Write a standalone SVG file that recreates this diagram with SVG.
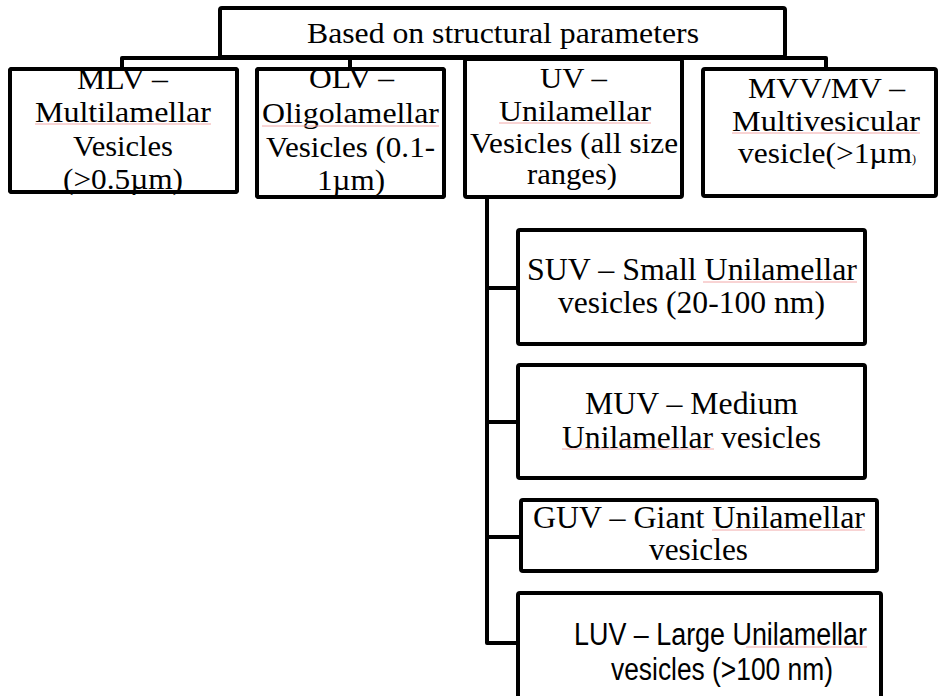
<svg xmlns="http://www.w3.org/2000/svg" width="939" height="696" viewBox="0 0 939 696">
<style>
.box{fill:#fff;stroke:#000;stroke-width:4;stroke-linejoin:round}
.frame{fill:none;stroke:#000;stroke-width:4;stroke-linejoin:round}
.conn{fill:none;stroke:#000;stroke-width:4;stroke-linejoin:round}
.t{font-family:"Liberation Serif","Times New Roman",serif;font-size:30px;fill:#000}
.t2{font-family:"Liberation Serif","Times New Roman",serif;font-size:31px;fill:#000}
.s{font-family:"Liberation Sans",Arial,sans-serif;font-size:31px;fill:#000}
.sp{stroke:#f2a8a8;stroke-width:1;fill:none}
</style>
<rect width="939" height="696" fill="#fff"/>
<g id="connectors">
<path class="conn" d="M220,57 V58 H122 V69"/>
<path class="conn" d="M122,58 H826 V69"/>
<path class="conn" d="M350,58 V69"/>
<path class="conn" d="M487,197 V643 H518"/>
<path class="conn" d="M487,288 H518"/>
<path class="conn" d="M487,422 H518"/>
<path class="conn" d="M487,537 H521"/>
</g>
<g id="root">
<rect class="box" x="220" y="8" width="565" height="49" rx="2"/>
<path class="conn" d="M220,30 V58"/>
<text class="t" x="307" y="43" textLength="392" lengthAdjust="spacingAndGlyphs">Based on structural parameters</text>
</g>
<g id="mlv">
<rect class="box" x="10" y="69" width="227" height="123" rx="2"/>
<text class="t" x="77" y="89" textLength="91" lengthAdjust="spacingAndGlyphs">MLV –</text>
<text class="t" x="35" y="122" textLength="176" lengthAdjust="spacingAndGlyphs">Multilamellar</text>
<text class="t" x="73" y="156" textLength="100" lengthAdjust="spacingAndGlyphs">Vesicles</text>
<text class="t" x="63" y="189" textLength="120" lengthAdjust="spacingAndGlyphs">(&gt;0.5µm)</text>
<path class="sp" d="M35,124 H211"/>
<rect class="frame" x="10" y="69" width="227" height="123" rx="2"/>
</g>
<g id="olv">
<rect class="box" x="257" y="69" width="187" height="128" rx="2"/>
<text class="t" x="309" y="88" textLength="85" lengthAdjust="spacingAndGlyphs">OLV –</text>
<text class="t" x="262" y="123" textLength="177" lengthAdjust="spacingAndGlyphs">Oligolamellar</text>
<text class="t" x="266" y="157" textLength="169" lengthAdjust="spacingAndGlyphs">Vesicles (0.1-</text>
<text class="t" x="317" y="190" textLength="68" lengthAdjust="spacingAndGlyphs">1µm)</text>
<path class="sp" d="M262,126 H439"/>
<rect class="frame" x="257" y="69" width="187" height="128" rx="2"/>
</g>
<g id="uv">
<rect class="box" x="465" y="59" width="217" height="138" rx="2"/>
<text class="t" x="540" y="88" textLength="67" lengthAdjust="spacingAndGlyphs">UV –</text>
<text class="t" x="499" y="121" textLength="152" lengthAdjust="spacingAndGlyphs">Unilamellar</text>
<text class="t" x="470" y="153" textLength="208" lengthAdjust="spacingAndGlyphs">Vesicles (all size</text>
<text class="t" x="527" y="184" textLength="90" lengthAdjust="spacingAndGlyphs">ranges)</text>
<path class="sp" d="M499,123 H651"/>
</g>
<g id="mvv">
<rect class="box" x="703" y="69" width="233" height="127" rx="2"/>
<text class="t" x="748" y="98" textLength="157" lengthAdjust="spacingAndGlyphs">MVV/MV –</text>
<text class="t" x="732" y="131" textLength="188" lengthAdjust="spacingAndGlyphs">Multivesicular</text>
<text class="t" x="738" y="163" textLength="174" lengthAdjust="spacingAndGlyphs">vesicle(&gt;1µm</text>
<text class="t" x="912" y="163" style="font-size:12px">)</text>
<path class="sp" d="M732,133 H920"/>
</g>
<g id="suv">
<rect class="box" x="518" y="230" width="347" height="114" rx="2"/>
<text class="t2" x="527" y="280" textLength="330" lengthAdjust="spacingAndGlyphs">SUV – Small Unilamellar</text>
<text class="t2" x="558" y="313" textLength="267" lengthAdjust="spacingAndGlyphs">vesicles (20-100 nm)</text>
<path class="sp" d="M703,282 H857"/>
</g>
<g id="muv">
<rect class="box" x="518" y="365" width="347" height="113" rx="2"/>
<text class="t2" x="585" y="414" textLength="213" lengthAdjust="spacingAndGlyphs">MUV – Medium</text>
<text class="t2" x="562" y="448" textLength="259" lengthAdjust="spacingAndGlyphs">Unilamellar vesicles</text>
<path class="sp" d="M562,449 H714"/>
</g>
<g id="guv">
<rect class="box" x="521" y="500" width="356" height="71" rx="2"/>
<text class="t2" x="533" y="528" textLength="332" lengthAdjust="spacingAndGlyphs">GUV – Giant Unilamellar</text>
<text class="t2" x="649" y="560" textLength="99" lengthAdjust="spacingAndGlyphs">vesicles</text>
<path class="sp" d="M712,530 H865"/>
</g>
<g id="luv">
<rect class="box" x="518" y="593" width="363" height="110" rx="2"/>
<text class="s" x="574" y="645" textLength="293" lengthAdjust="spacingAndGlyphs">LUV – Large Unilamellar</text>
<text class="s" x="611" y="680" textLength="222" lengthAdjust="spacingAndGlyphs">vesicles (&gt;100 nm)</text>
<path class="sp" d="M746,647 H867"/>
</g>
</svg>
